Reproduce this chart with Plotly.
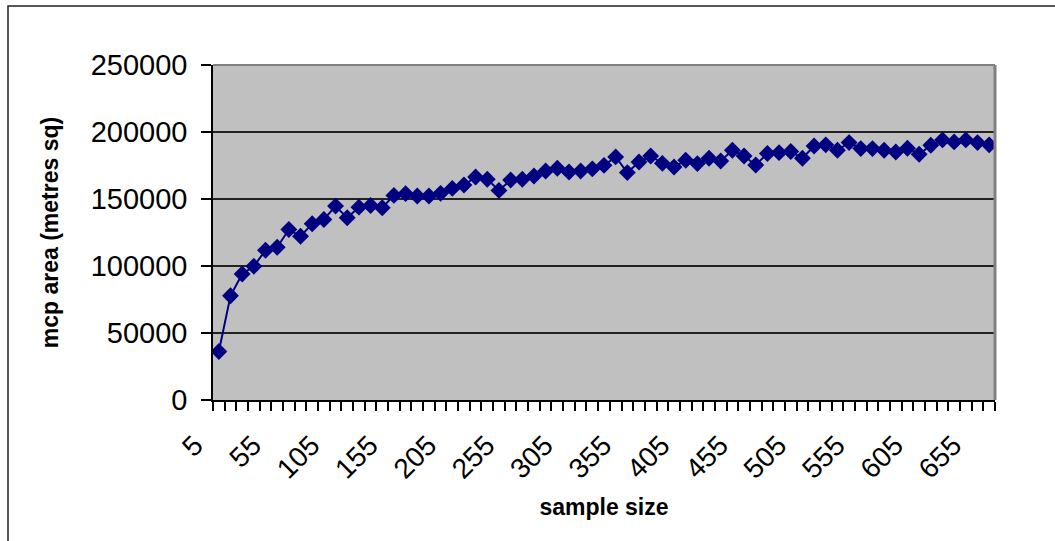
import plotly.graph_objects as go

sample_size = [5 + 10 * i for i in range(67)]
mcp_area = [
    36200, 77800, 94000, 99800, 111800, 114000, 127200, 122200, 131500, 134700,
    144700, 136000, 143900, 145200, 143500, 152700, 154000, 152200, 152200, 154200,
    157900, 160400, 166400, 164700, 156400, 164200, 164700, 167200, 170900, 172900,
    170100, 170900, 172500, 175100, 181400, 169700, 177600, 182100, 176600, 173900,
    178900, 176400, 180400, 178400, 186400, 182100, 175400, 183900, 184600, 185500,
    180400, 189600, 190400, 186400, 192100, 187600, 187600, 186400, 185100, 187900,
    183400, 190100, 194100, 192600, 194100, 192100, 190400,
]
x_label_vals = [5 + 50 * i for i in range(14)]
x_label_text = [str(v) for v in x_label_vals]
y_tick_vals = [0, 50000, 100000, 150000, 200000, 250000]

FONT = "Liberation Sans, Arial, sans-serif"

fig = go.Figure()
fig.add_trace(go.Scatter(
    x=sample_size, y=mcp_area, mode="lines+markers",
    line=dict(color="#000080", width=2),
    marker=dict(symbol="diamond", size=13, color="#000080"),
    showlegend=False, hoverinfo="x+y",
))

L, R, T, B = 213, 60, 65, 141
W, H = 1055, 541
pw, ph = W - L - R, H - T - B

fig.update_layout(
    width=W, height=H,
    margin=dict(l=L, r=R, t=T, b=B, pad=0),
    paper_bgcolor="white", plot_bgcolor="#C0C0C0",
    font=dict(family=FONT, color="black"),
    xaxis=dict(
        range=[0, 670], showgrid=False, zeroline=False,
        showline=True, linecolor="black", linewidth=1.5,
        tickmode="array", tickvals=x_label_vals, ticktext=x_label_text,
        ticks="", tickangle=-45, tickfont=dict(size=28),
        ticklabelshift=-24, ticklabelstandoff=16,
        minor=dict(tickmode="linear", tick0=0, dtick=10, ticks="outside",
                   ticklen=9, tickwidth=1.5, tickcolor="black", showgrid=False),
        title=dict(text="<b>sample size</b>", font=dict(size=23), standoff=15),
        automargin=False,
    ),
    yaxis=dict(
        range=[0, 250000], tickmode="array", tickvals=y_tick_vals,
        tickformat="d", showgrid=True, gridcolor="#222222", gridwidth=1.5,
        zeroline=False, showline=True, linecolor="black", linewidth=1.5,
        ticks="outside", ticklen=10, tickwidth=1.5, tickcolor="black",
        tickfont=dict(size=29), ticklabelstandoff=8,
        title=dict(text="<b>mcp area (metres sq)</b>", font=dict(size=23), standoff=26),
        automargin=False,
    ),
)

# grey top/right border of plot area
fig.add_shape(type="line", xref="paper", yref="paper", x0=0, x1=1, y0=1, y1=1,
              line=dict(color="#808080", width=2))
fig.add_shape(type="line", xref="paper", yref="paper", x0=1, x1=1, y0=0, y1=1,
              line=dict(color="#808080", width=3))
# outer chart border
fig.add_shape(type="rect", xref="paper", yref="paper",
              x0=(8 - L) / pw, x1=(W + 10 - L) / pw,
              y0=(T + ph - (H + 10)) / ph, y1=(T + ph - 6) / ph,
              line=dict(color="#222222", width=1.5), fillcolor="rgba(0,0,0,0)",
              layer="below")

fig.write_html("out.html")
